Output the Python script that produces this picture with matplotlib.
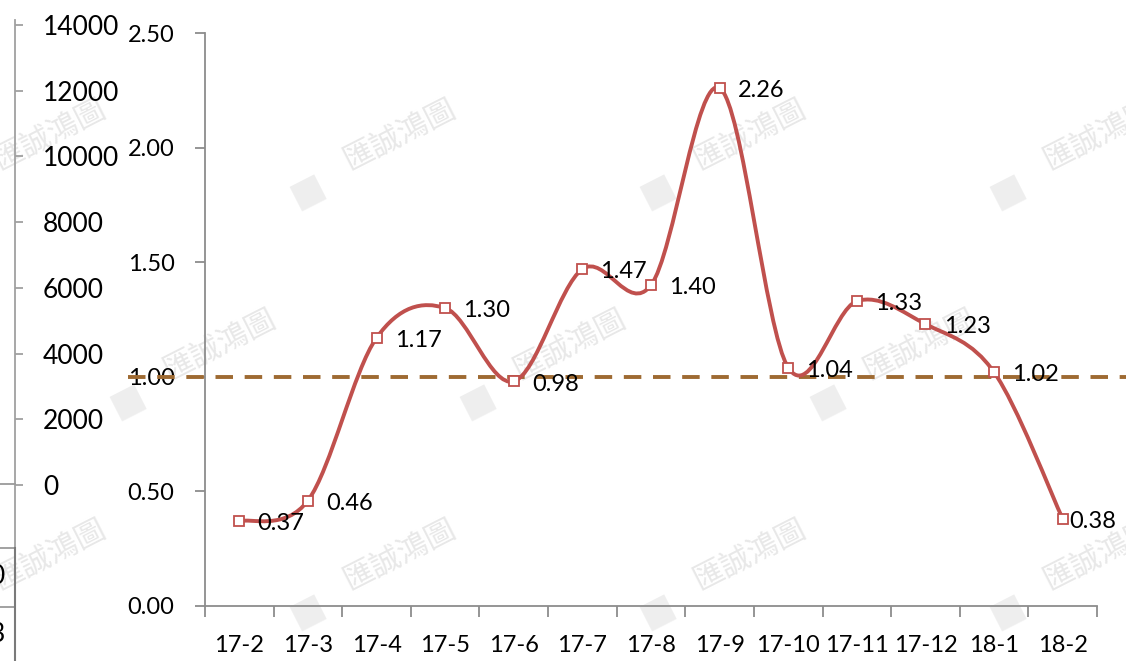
import numpy as np
import matplotlib.pyplot as plt
from matplotlib.path import Path
from matplotlib.patches import PathPatch
from matplotlib.lines import Line2D

months = ["17-2", "17-3", "17-4", "17-5", "17-6", "17-7", "17-8",
          "17-9", "17-10", "17-11", "17-12", "18-1", "18-2"]
ratio = [0.37, 0.46, 1.17, 1.30, 0.98, 1.47, 1.40,
         2.26, 1.04, 1.33, 1.23, 1.02, 0.38]
ref_level = 1.00
left_ticks = [0, 2000, 4000, 6000, 8000, 10000, 12000, 14000]
wm_text = "匯誠鴻圖"

plt.rcParams["font.family"] = ["Lato", "DejaVu Sans"]

W, H = 1126, 661
fig = plt.figure(figsize=(W / 100, H / 100), dpi=100)

def fx(px):
    return px / W

def fy(py):
    return 1 - py / H

line_red = "#C0504D"
brown = "#9E6A32"
gray = "#8C8C8C"

# faint watermarks behind everything
for row, xs in [(135, [45, 395, 745, 1095]),
                (345, [215, 565, 915]),
                (555, [45, 395, 745, 1095])]:
    for x in xs:
        fig.text(fx(x + 5), fy(row), wm_text, fontsize=22, color="#E8E8E8",
                 family=["Noto Sans CJK TC", "DejaVu Sans"], rotation=27,
                 rotation_mode="anchor", ha="center", va="center", zorder=-2)
        fig.text(fx(x - 88), fy(row + 55), "■", fontsize=26, color="#EEEEEE",
                 family="DejaVu Sans", rotation=27, rotation_mode="anchor",
                 ha="center", va="center", zorder=-2)

# main axes
ax = fig.add_axes([fx(205), fy(606), fx(1097 - 205), (606 - 33) / H])
ax.patch.set_visible(False)
n = len(months)
x = np.arange(n)
y = np.array(ratio)

# smoothed line (Catmull-Rom style bezier like Excel)
pts = np.column_stack([x, y])
ext = np.vstack([pts[0], pts, pts[-1]])
verts = [tuple(pts[0])]
codes = [Path.MOVETO]
for i in range(n - 1):
    p0, p1, p2, p3 = ext[i], ext[i + 1], ext[i + 2], ext[i + 3]
    c1 = p1 + (p2 - p0) / 6
    c2 = p2 - (p3 - p1) / 6
    verts += [tuple(c1), tuple(c2), tuple(p2)]
    codes += [Path.CURVE4] * 3

step = (1097 - 205) / n
ax.plot([(128 - 205) / step - 0.5, (W - 205) / step - 0.5], [ref_level, ref_level],
        color=brown, lw=2.8, dashes=(4.5, 3), clip_on=False, zorder=2)
ax.add_patch(PathPatch(Path(verts, codes), fill=False, edgecolor=line_red,
                       lw=2.8, zorder=3))
ax.plot(x, y, ls="none", marker="s", ms=6.5, mfc="white", mec=line_red,
        mew=1.3, zorder=4)

for i, v in enumerate(ratio):
    off = 5 if i == n - 1 else 13
    ax.annotate(f"{v:.2f}", (x[i], v), xytext=(off, -2), textcoords="offset points",
                ha="left", va="center", fontsize=17, color="black", zorder=5)

ax.set_xlim(-0.5, n - 0.5)
ax.set_ylim(0, 2.5)
ax.set_yticks(np.arange(0, 2.51, 0.5))
ax.set_yticklabels([f"{t:.2f}" for t in np.arange(0, 2.51, 0.5)])
ax.set_xticks(x)
ax.set_xticklabels(months)
ax.set_xticks(np.arange(-0.5, n, 1), minor=True)
ax.tick_params(axis="x", which="major", length=0, pad=21, labelsize=17)
ax.tick_params(axis="x", which="minor", length=8, width=1.3, color=gray)
ax.tick_params(axis="y", length=7, width=1.3, color=gray, pad=15, labelsize=17)
for s in ["top", "right"]:
    ax.spines[s].set_visible(False)
for s in ["left", "bottom"]:
    ax.spines[s].set_color(gray)
    ax.spines[s].set_linewidth(1.3)

# cut-off axis of another chart on the left
ax2 = fig.add_axes([fx(14), 0, fx(1), (H - 20) / H])
ax2.patch.set_visible(False)
ax2.set_xticks([])
ax2.yaxis.tick_right()
ax2.set_ylim((485 - 661) / 460 * 14000, (485 - 20) / 460 * 14000)
ax2.set_yticks(left_ticks)
ax2.tick_params(axis="y", length=6, width=1.3, color="#A0A0A0", pad=14,
                labelsize=19)
for s in ["top", "bottom", "left"]:
    ax2.spines[s].set_visible(False)
ax2.spines["right"].set_color("#A0A0A0")
ax2.spines["right"].set_linewidth(1.3)

# fragments of a table at the bottom left
for yy in [484, 548, 607]:
    fig.add_artist(Line2D([fx(0), fx(15)], [fy(yy), fy(yy)], color="#9A9A9A", lw=1.3))
fig.add_artist(Line2D([fx(15), fx(15)], [fy(548), fy(661)], color="#7A7A7A", lw=1.5))
fig.text(fx(5), fy(577), "0", fontsize=19, ha="right", va="center")
fig.text(fx(5), fy(634), "3", fontsize=19, ha="right", va="center")

fig.savefig("out.png", dpi=100)
